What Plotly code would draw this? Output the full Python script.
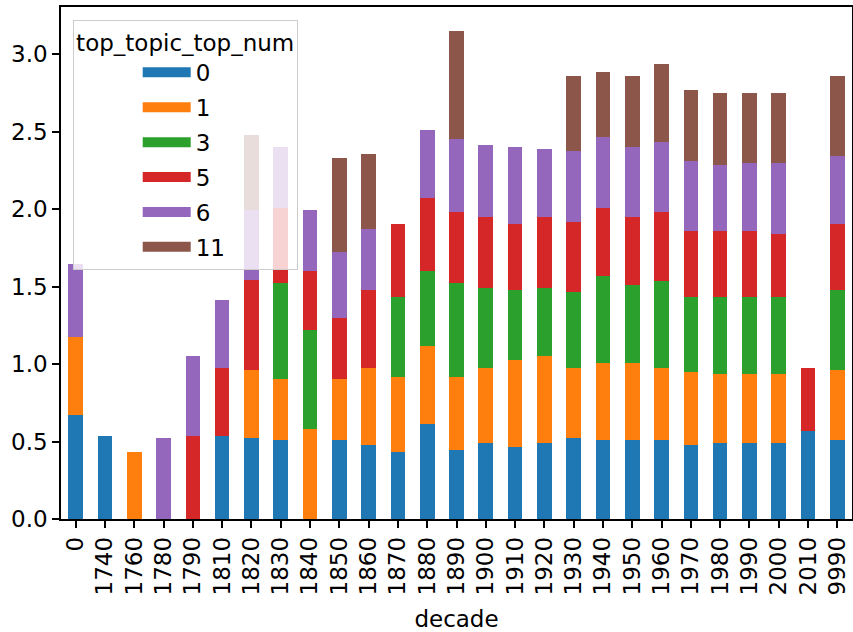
import plotly.graph_objects as go

decades = ["0", "1740", "1760", "1780", "1790", "1810", "1820", "1830", "1840", "1850",
           "1860", "1870", "1880", "1890", "1900", "1910", "1920", "1930", "1940", "1950",
           "1960", "1970", "1980", "1990", "2000", "2010", "9990"]

topic_0 = [0.674, 0.537, 0, 0, 0, 0.537, 0.522, 0.507, 0, 0.507,
           0.478, 0.433, 0.615, 0.448, 0.491, 0.463, 0.491, 0.522, 0.507, 0.507,
           0.507, 0.478, 0.491, 0.491, 0.491, 0.570, 0.507]
topic_1 = [0.500, 0, 0.433, 0, 0, 0, 0.439, 0.395, 0.583, 0.395,
           0.500, 0.484, 0.500, 0.469, 0.487, 0.561, 0.563, 0.456, 0.502, 0.502,
           0.471, 0.468, 0.442, 0.442, 0.442, 0, 0.454]
topic_3 = [0, 0, 0, 0, 0, 0, 0, 0.624, 0.639, 0,
           0, 0.516, 0.485, 0.609, 0.515, 0.456, 0.439, 0.487, 0.561, 0.500,
           0.561, 0.487, 0.500, 0.500, 0.500, 0, 0.517]
topic_5 = [0, 0, 0, 0, 0.537, 0.441, 0.580, 0.485, 0.380, 0.396,
           0.502, 0.469, 0.472, 0.454, 0.457, 0.424, 0.457, 0.455, 0.441, 0.441,
           0.441, 0.426, 0.426, 0.426, 0.410, 0.408, 0.426]
topic_6 = [0.472, 0, 0, 0.522, 0.517, 0.439, 0.452, 0.391, 0.391, 0.424,
           0.392, 0, 0.437, 0.472, 0.467, 0.498, 0.439, 0.454, 0.454, 0.454,
           0.455, 0.454, 0.424, 0.439, 0.455, 0, 0.439]
topic_11 = [0, 0, 0, 0, 0, 0, 0.485, 0, 0, 0.606,
            0.487, 0, 0, 0.696, 0, 0, 0, 0.485, 0.424, 0.455,
            0.500, 0.454, 0.469, 0.454, 0.454, 0, 0.516]

series_names = ["0", "1", "3", "5", "6", "11"]
series_values = [topic_0, topic_1, topic_3, topic_5, topic_6, topic_11]
colors = ["#1f77b4", "#ff7f0e", "#2ca02c", "#d62728", "#9467bd", "#8c564b"]

y_ticks = [0.0, 0.5, 1.0, 1.5, 2.0, 2.5, 3.0]

FONT = "DejaVu Sans"
FS = 23

fig = go.Figure()
for name, vals, col in zip(series_names, series_values, colors):
    fig.add_trace(go.Bar(
        x=decades, y=vals, name=name, marker=dict(color=col, line=dict(width=0)),
        showlegend=False, legendgroup=name,
    ))
# legend swatches (wide rectangles like matplotlib)
for name, col in zip(series_names, colors):
    fig.add_trace(go.Scatter(
        x=[None], y=[None], mode="lines", name=name, legendgroup=name,
        line=dict(color=col, width=16), showlegend=True, hoverinfo="skip",
    ))

totals = [sum(v) for v in zip(*series_values)]
ymax = max(totals) * 1.05

fig.update_layout(
    width=853, height=632,
    margin=dict(l=61, r=1, t=7, b=113, autoexpand=False),
    paper_bgcolor="white", plot_bgcolor="white",
    barmode="stack", bargap=0.5,
    font=dict(family=FONT, size=FS, color="black"),
    showlegend=True,
    legend=dict(
        x=0.0148, y=0.9746, xanchor="left", yanchor="top",
        bgcolor="rgba(255,255,255,0.8)", bordercolor="#cccccc", borderwidth=1,
        title=dict(text="top_topic_top_num", side="top center", font=dict(size=FS)),
        font=dict(size=FS), tracegroupgap=2, indentation=64, itemwidth=48,
        traceorder="grouped",
    ),
    xaxis=dict(
        type="category", range=[-0.5, len(decades) - 0.5], automargin=False,
        tickangle=-90, ticks="outside", ticklen=7, tickwidth=1.5, tickcolor="black",
        showline=True, linecolor="black", linewidth=1.5, mirror=True,
        showgrid=False, zeroline=False,
        title=dict(text="decade", standoff=17, font=dict(size=FS)),
    ),
    yaxis=dict(
        range=[0, ymax], tickvals=y_ticks, tickformat=".1f", automargin=False,
        ticks="outside", ticklen=7, tickwidth=1.5, tickcolor="black",
        showline=True, linecolor="black", linewidth=1.5, mirror=True,
        showgrid=False, zeroline=False,
    ),
)

fig.write_html(
    "out.html",
    config={"displayModeBar": False},
    post_script="document.body.style.margin='0';document.body.style.overflow='hidden';",
)
